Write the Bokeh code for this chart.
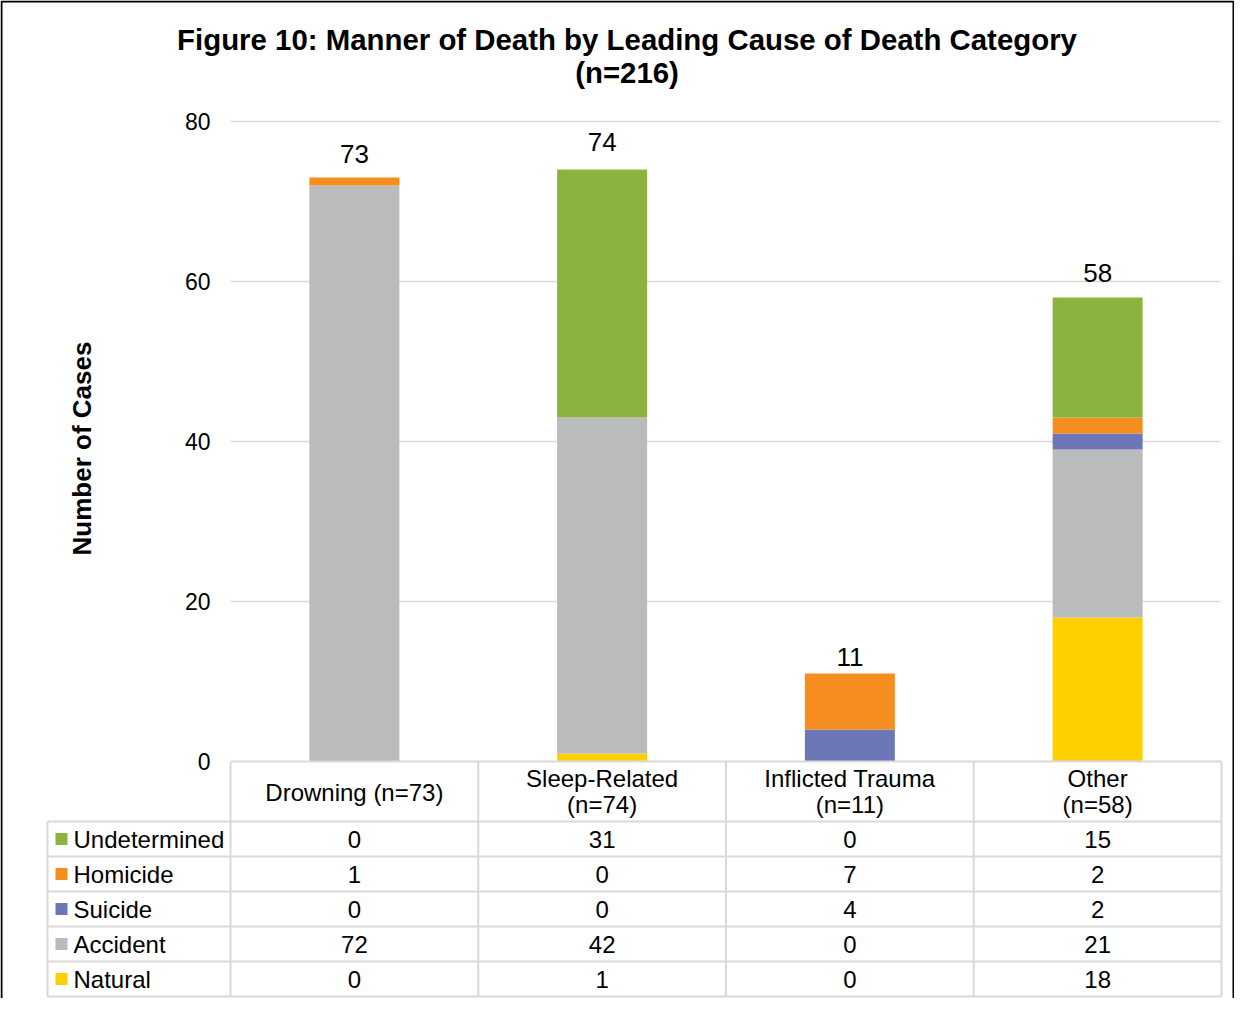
import math
from bokeh.plotting import figure
from bokeh.models import Range1d, ColumnDataSource
from bokeh.core.properties import value
from bokeh.embed import file_html
from bokeh.resources import INLINE

# ---------------- data ----------------
title_lines = ["Figure 10: Manner of Death by Leading Cause of Death Category", "(n=216)"]
y_axis_title = "Number of Cases"
categories = ["Drowning (n=73)", "Sleep-Related\n(n=74)", "Inflicted Trauma\n(n=11)", "Other\n(n=58)"]
manners = ["Natural", "Accident", "Suicide", "Homicide", "Undetermined"]  # stack order, bottom -> top
natural = [0, 1, 0, 18]
accident = [72, 42, 0, 21]
suicide = [0, 0, 4, 2]
homicide = [1, 0, 7, 2]
undetermined = [0, 31, 0, 15]
y_ticks = [0, 20, 40, 60, 80]

# ---------------- styles ----------------
colors = ["#FFD000", "#BABBBD", "#6D77B8", "#F68E1F", "#8CB33E"]
label_gap_px = [23.5, 28, 17, 24.5]
FONT = value("Liberation Sans")
GRID_COLOR = "#D9D9D9"

# ---------------- geometry (px in the picture) ----------------
W, H = 1234, 998
COL_PX = 247.75          # width of one category column
UNIT_PX = 8.0            # px per case
X0_PX = 230              # left edge of first category column
Y0_PX = 761              # position of value 0


def xd(px):
    return (px - X0_PX) / COL_PX


def yd(py):
    return (Y0_PX - py) / UNIT_PX


x_range = Range1d(xd(0), xd(W))
y_range = Range1d(yd(H), yd(0))

p = figure(width=W, height=H, x_range=x_range, y_range=y_range,
           x_axis_type=None, y_axis_type=None, output_backend="svg",
           toolbar_location=None, min_border=0, title=None)
p.outline_line_color = None
p.background_fill_color = "white"
p.border_fill_color = "white"

n = len(categories)
series = {"Natural": natural, "Accident": accident, "Suicide": suicide,
          "Homicide": homicide, "Undetermined": undetermined}
xs = [i + 0.5 for i in range(n)]
data = dict(x=xs)
data.update(series)
src = ColumnDataSource(data)

# grid lines
grid_x0 = xd(230)
grid_x1 = xd(1220)
p.segment(x0=[grid_x0] * (len(y_ticks) - 1), x1=[grid_x1] * (len(y_ticks) - 1),
          y0=y_ticks[1:], y1=y_ticks[1:], line_color=GRID_COLOR, line_width=1.5)

# y tick labels
p.text(x=[xd(210)] * len(y_ticks), y=y_ticks, text=[str(t) for t in y_ticks],
       text_font=FONT, text_font_size="23px", text_align="right",
       text_baseline="middle", text_color="#000000")

# stacked bars
bar_w = 90 / COL_PX
p.vbar_stack(manners, x="x", width=bar_w, source=src, fill_color=colors,
             line_color=None)

# totals
totals = [sum(series[m][i] for m in manners) for i in range(n)]
p.text(x=xs, y=totals, text=[str(t) for t in totals], text_font=FONT,
       text_font_size="26px", text_align="center", text_baseline="middle",
       y_offset=[-g for g in label_gap_px], text_color="#000000")

# y axis title
p.text(x=[xd(81.5)], y=[yd(448)], text=[y_axis_title], angle=math.pi / 2,
       text_font=FONT, text_font_size="26px", text_font_style="bold",
       text_align="center", text_baseline="middle", text_color="#000000")

# chart title
p.text(x=[xd(626.5)] * 2, y=[yd(38.5), yd(71.5)], text=title_lines,
       text_font=FONT, text_font_size="29.4px", text_font_style="bold",
       text_align="center", text_baseline="middle", text_color="#000000")

# ---------------- data table ----------------
header_h = 60 / UNIT_PX
row_h = 35 / UNIT_PX
legend_left = xd(47)
rows = list(reversed(manners))   # top -> bottom
n_rows = len(rows)
table_bottom = -(header_h + row_h * n_rows)

# horizontal lines
hx0 = [0.0] + [legend_left] * (n_rows + 1)
hx1 = [float(n)] * (n_rows + 2)
hy = [0.0] + [-(header_h + row_h * j) for j in range(n_rows + 1)]
p.segment(x0=hx0, x1=hx1, y0=hy, y1=hy, line_color=GRID_COLOR, line_width=2)
# vertical lines
vx = [float(i) for i in range(n + 1)] + [legend_left]
vy0 = [0.0] * (n + 1) + [-header_h]
vy1 = [table_bottom] * (n + 2)
p.segment(x0=vx, x1=vx, y0=vy0, y1=vy1, line_color=GRID_COLOR, line_width=2)

# header labels
hdr_x, hdr_y, hdr_t, hdr_off = [], [], [], []
hdr_center = -header_h / 2
for i, c in enumerate(categories):
    parts = c.split("\n")
    offs = [1] if len(parts) == 1 else [-13, 13]
    for part, o in zip(parts, offs):
        hdr_x.append(i + 0.5)
        hdr_y.append(hdr_center)
        hdr_t.append(part)
        hdr_off.append(o)
p.text(x=hdr_x, y=hdr_y, text=hdr_t, y_offset=hdr_off, text_font=FONT,
       text_font_size="24px", text_align="center", text_baseline="middle",
       text_color="#000000")

# cell values + legend column
row_centers = [-(header_h + row_h * j + row_h / 2) for j in range(n_rows)]
cx, cy, ct = [], [], []
for j, m in enumerate(rows):
    for i in range(n):
        cx.append(i + 0.5)
        cy.append(row_centers[j])
        ct.append(str(series[m][i]))
p.text(x=cx, y=cy, text=ct, text_font=FONT, text_font_size="24px",
       text_align="center", text_baseline="middle", text_color="#000000")

row_colors = [colors[manners.index(m)] for m in rows]
p.rect(x=[xd(61)] * n_rows, y=row_centers, width=12, height=12,
       width_units="screen", height_units="screen", fill_color=row_colors,
       line_color=None)
p.text(x=[xd(73)] * n_rows, y=row_centers, text=rows,
       text_font=FONT, text_font_size="24px", text_align="left",
       text_baseline="middle", text_color="#000000")

# outer border (left, top, right)
bx = [xd(1), xd(1), xd(W - 1), xd(W - 1)]
by = [yd(H + 40), yd(1), yd(1), yd(H + 40)]
p.line(x=bx, y=by, line_color="black", line_width=2)

open("out.html", "w").write(file_html(p, INLINE))
